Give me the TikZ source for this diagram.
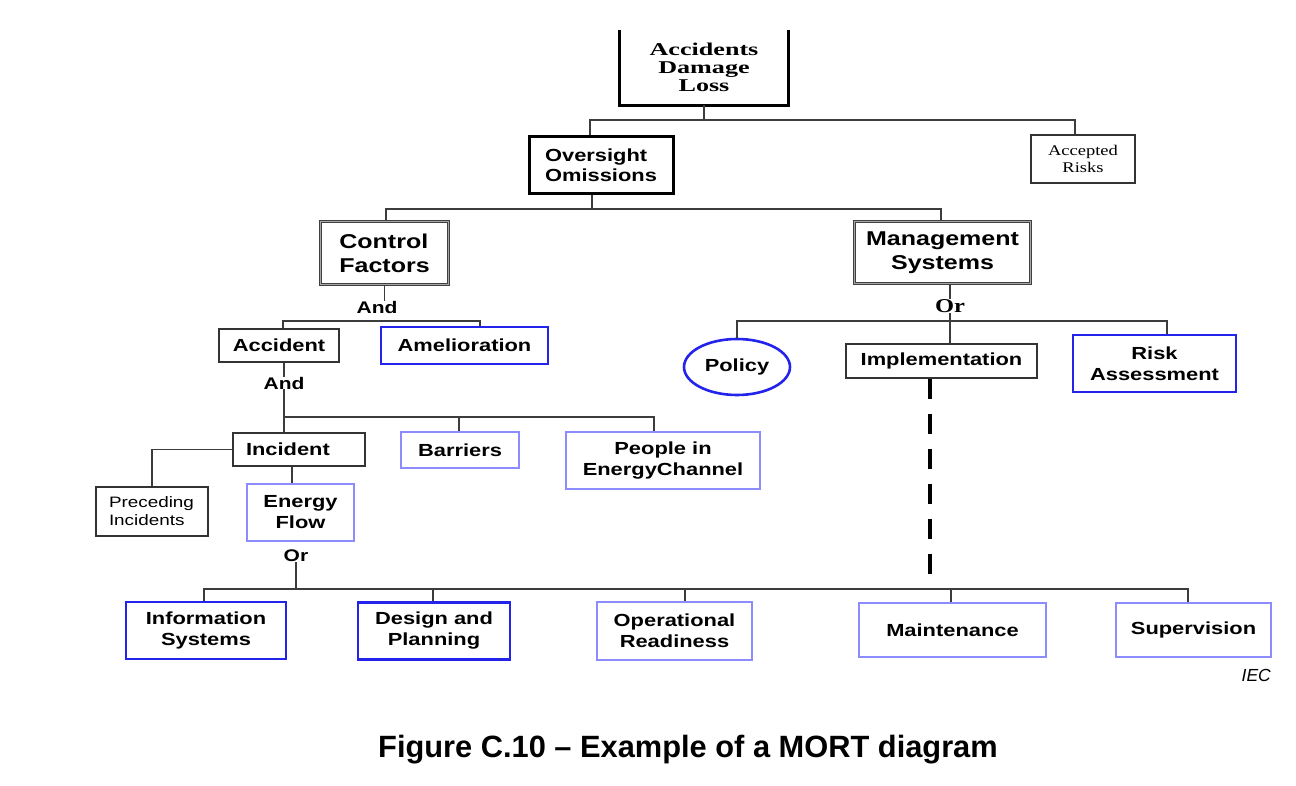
\documentclass[tikz,border=0pt]{standalone}
\usepackage{fontspec}
\setmainfont{Liberation Sans}
\newfontfamily\dsans[FakeStretch=1.25]{Liberation Sans}
\newfontfamily\dserif[FakeStretch=1.25]{Liberation Serif}
\newfontfamily\dserifw[FakeStretch=1.45]{Liberation Serif}
\usetikzlibrary{shapes.geometric}
\definecolor{dblue}{RGB}{35,35,235}
\definecolor{lblue}{RGB}{140,140,255}
\definecolor{lnk}{RGB}{60,60,60}
\newcommand{\setfs}[2]{\fontsize{#1pt}{#2pt}\selectfont}
\begin{document}
\begin{tikzpicture}[x=1pt,y=-1pt,
  box/.style={rectangle, inner sep=0pt, align=center, font=\dsans\bfseries\setfs{17.5}{21}},
  thinbox/.style={box, draw=black!80, line width=1.2pt},
  thickbox/.style={box, draw=black, line width=3pt},
  dblbox/.style={box, draw=black!75, double=black!35, double distance=1.2pt, line width=1pt},
  bluebox/.style={box, draw=dblue, line width=2.6pt},
  lbox/.style={box, draw=lblue, line width=2.6pt},
  conn/.style={draw=lnk, line width=1.4pt},
  gate/.style={inner sep=0pt, font=\dsans\bfseries\setfs{16.8}{20}},
  sgate/.style={inner sep=0pt, font=\dserif\bfseries\setfs{19.6}{20}},
  dashline/.style={draw=black, line width=3.5pt, dash pattern=on 20pt off 15pt}
]
\useasboundingbox (0,0) rectangle (1296,786);
\fill[white] (0,0) rectangle (1296,786);

% top
\node[box, font=\dserifw\bfseries\setfs{18}{18.2}, minimum width=168pt, minimum height=75pt] (acc) at (704,67.5) {Accidents\\Damage\\Loss};
\draw[line width=3pt] (acc.north west) -- (acc.south west) -- (acc.south east) -- (acc.north east);

\node[thickbox, align=left, font=\dsans\bfseries\setfs{17.5}{20}, minimum width=144pt, minimum height=57pt] (over) at (601,165.5) {Oversight\\Omissions};
\node[thinbox, font=\dserif\setfs{14.8}{17}, minimum width=104pt, minimum height=48pt] (accr) at (1083,159) {Accepted\\Risks};

% level 2
\node[dblbox, align=left, font=\dsans\bfseries\setfs{20}{24}, minimum width=128pt, minimum height=63pt] (ctrl) at (384.5,253) {Control\\Factors};
\node[dblbox, font=\dsans\bfseries\setfs{20}{24}, minimum width=176pt, minimum height=62pt] (mgmt) at (942.5,252.5) {Management\\Systems};

% left branch
\node[gate] (and1) at (377,307) {And};
\node[thinbox, minimum width=120pt, minimum height=33pt] (accid) at (279,345.5) {Accident};
\node[bluebox, minimum width=167pt, minimum height=37pt] (amel) at (464.5,345.5) {Amelioration};
\node[gate] (and2) at (284,383) {And};
\node[thinbox, text width=106pt, align=left, minimum width=132pt, minimum height=33pt] (inc) at (299,449.5) {Incident};
\node[lbox, minimum width=118pt, minimum height=36pt] (barr) at (460,450) {Barriers};
\node[lbox, minimum width=194pt, minimum height=57pt] (people) at (663,460.5) {People in\\EnergyChannel};
\node[thinbox, text width=86pt, align=left, font=\dsans\setfs{15.1}{18}, minimum width=112pt, minimum height=49pt] (prec) at (152,511.5) {Preceding\\Incidents};
\node[lbox, minimum width=107pt, minimum height=57pt] (energy) at (300.5,512.5) {Energy\\Flow};
\node[gate] (or1) at (296,556) {Or};

% right branch
\node[sgate] (mor) at (950,306) {Or};
\node[ellipse, draw=dblue, line width=2.6pt, inner sep=0pt, minimum width=106pt, minimum height=56pt, font=\dsans\bfseries\setfs{17.5}{21}] (policy) at (737,367) {Policy};
\node[thinbox, minimum width=191pt, minimum height=34pt] (impl) at (941.5,361) {Implementation};
\node[bluebox, minimum width=163pt, minimum height=57pt] (risk) at (1154.5,363.5) {Risk\\Assessment};

% bottom row
\node[bluebox, minimum width=160pt, minimum height=57pt] (info) at (206,630.5) {Information\\Systems};
\node[bluebox, minimum width=152pt, minimum height=57pt] (design) at (434,631) {Design and\\Planning};
\node[lbox, minimum width=155pt, minimum height=58pt] (oper) at (674.5,631) {Operational\\Readiness};
\node[lbox, minimum width=187pt, minimum height=54pt] (maint) at (952.5,630) {Maintenance};
\node[lbox, minimum width=155pt, minimum height=54pt] (superv) at (1193.5,630) {Supervision};

\node[inner sep=0pt, anchor=east, font=\itshape\setfs{17.5}{18}] (iec) at (1271,675) {IEC};
\node[inner sep=0pt, font=\bfseries\setfs{30.8}{32}] (cap) at (688,750) {Figure C.10 -- Example of a MORT diagram};

% connectors level 1
\coordinate (c1a) at (590,120);
\coordinate (c1b) at (1075,120);
\draw[conn] (acc.south) -- (acc.south |- c1a);
\draw[conn] (c1a |- over.north) -- (c1a) -- (c1b) -- (c1b |- accr.north);

% level 2
\coordinate (c2a) at (386,209);
\coordinate (c2b) at (941,209);
\coordinate (c2o) at (592,209);
\draw[conn] (c2o |- over.south) -- (c2o);
\draw[conn] (c2a |- ctrl.north) -- (c2a) -- (c2b) -- (c2b |- mgmt.north);

% control factors
\draw[conn] (ctrl.south) -- (ctrl.south |- and1.north);
\coordinate (c3a) at (283,321);
\coordinate (c3b) at (480,321);
\draw[conn] (c3a |- accid.north) -- (c3a) -- (c3b) -- (c3b |- amel.north);

% accident
\coordinate (c4a) at (284,417);
\coordinate (c4b) at (459,417);
\coordinate (c4c) at (654,417);
\draw[conn] (c4a |- accid.south) -- (c4a |- and2.north);
\draw[conn] (c4a |- and2.south) -- (c4a |- inc.north);
\draw[conn] (c4a) -- (c4c) -- (c4c |- people.north);
\draw[conn] (c4b) -- (c4b |- barr.north);

% incident
\draw[conn] (inc.west) -| (prec.north);
\coordinate (c6) at (292,0);
\draw[conn] (c6 |- inc.south) -- (c6 |- energy.north);

% or -> bottom row
\coordinate (c7a) at (204,589);
\coordinate (c7b) at (433,589);
\coordinate (c7c) at (685,589);
\coordinate (c7d) at (951,589);
\coordinate (c7e) at (1188,589);
\draw[conn] (or1.south) -- (or1.south |- c7a);
\draw[conn] (c7a |- info.north) -- (c7a) -- (c7e) -- (c7e |- superv.north);
\draw[conn] (c7b) -- (c7b |- design.north);
\draw[conn] (c7c) -- (c7c |- oper.north);
\draw[conn] (c7d) -- (c7d |- maint.north);

% management
\coordinate (c8) at (950,321);
\coordinate (c8a) at (737,321);
\coordinate (c8b) at (1167,321);
\draw[conn] (c8 |- mgmt.south) -- (c8 |- mor.north);
\draw[conn] (c8 |- mor.south) -- (c8 |- impl.north);
\draw[conn] (c8a |- policy.north) -- (c8a) -- (c8b) -- (c8b |- risk.north);

% dashed
\coordinate (dend) at (930,574);
\draw[dashline] (dend |- impl.south) -- (dend);
\end{tikzpicture}
\end{document}
